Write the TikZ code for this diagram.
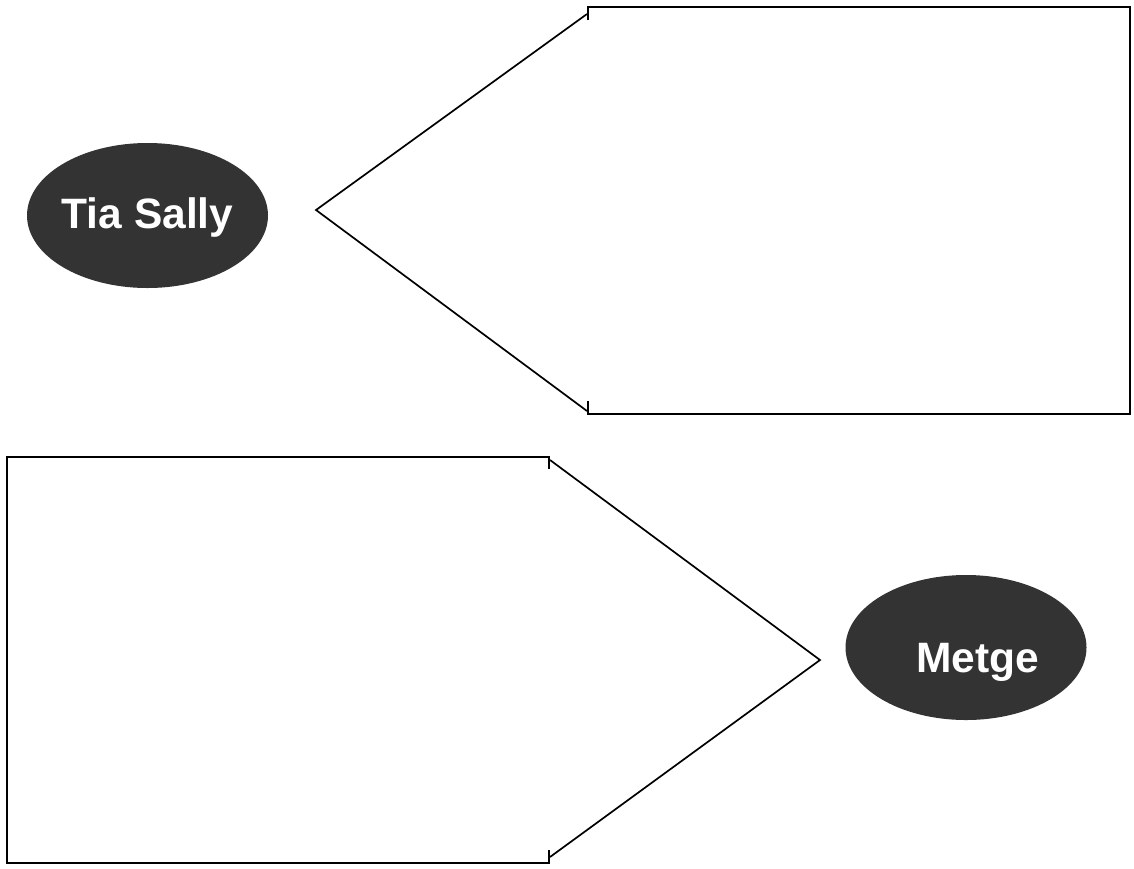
\documentclass[tikz,border=0pt]{standalone}
\usepackage{fontspec}
\setmainfont{Liberation Sans}
\usetikzlibrary{shapes.geometric}
\definecolor{blobgray}{HTML}{333333}
\begin{document}
\begin{tikzpicture}[x=1pt,y=-1pt,
  blob/.style={ellipse, fill=blobgray, minimum width=241pt, minimum height=145pt, inner sep=0pt},
  lbl/.style={text=white, inner sep=0pt, anchor=base, font=\fontsize{42.5}{42.5}\selectfont\bfseries},
  outline/.style={draw=black, line width=1.7pt, line join=miter}]
\useasboundingbox (0,0) rectangle (1134,868);
\fill[white] (0,0) rectangle (1134,868);
% ellipses
\node[blob] (tia) at (147.5,215.5) {};
\node[lbl] (tiatext) at (147.5,228) {Tia Sally};
\node[blob] (metge) at (966,647.5) {};
\node[lbl] (metgetext) at (977.5,672) {Metge};
% top callout
\coordinate (tapex) at (316,210);
\coordinate (ttop) at (587,14);
\coordinate (tbot) at (587,411);
\draw[outline] (588,20) -- (588,7) -- (1130,7) -- (1130,414) -- (588,414) -- (588,401);
\draw[outline] (ttop) -- (tapex) -- (tbot);
% bottom callout
\coordinate (bapex) at (820,660);
\coordinate (btop) at (550,460);
\coordinate (bbot) at (550,857);
\draw[outline] (549,469) -- (549,457) -- (7,457) -- (7,863) -- (549,863) -- (549,850);
\draw[outline] (btop) -- (bapex) -- (bbot);
\end{tikzpicture}
\end{document}
